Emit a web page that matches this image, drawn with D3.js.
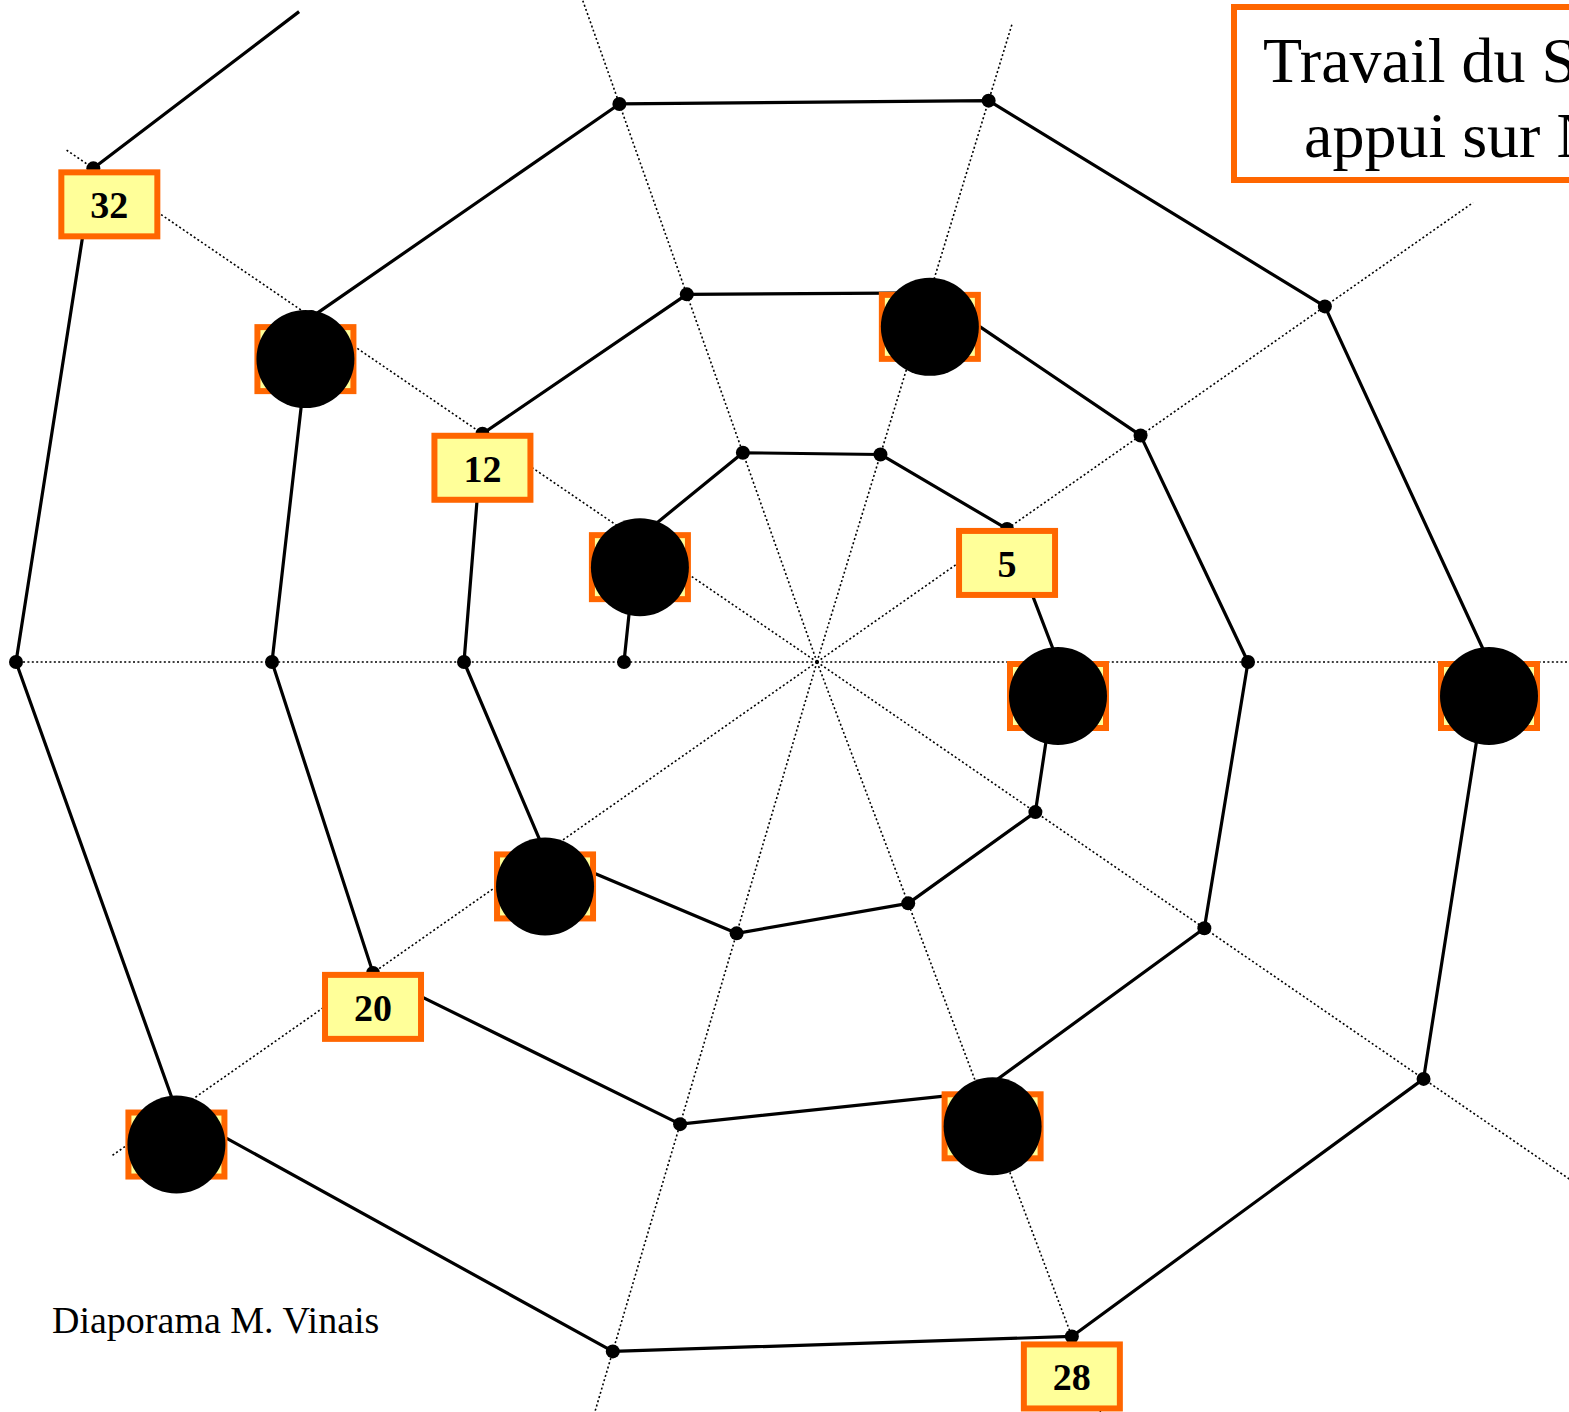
<!DOCTYPE html>
<html>
<head>
<meta charset="utf-8">
<script src="https://cdn.jsdelivr.net/npm/d3@7"></script>
<style>
  html, body { margin: 0; padding: 0; background: #fff; }
  svg { display: block; }
</style>
</head>
<body>
<script>
    'use strict';

    // spokes of the web, screen angle in degrees (0 = right, clockwise)
    var spokeAngles = [0, 34.5, 69.3, 106.5, 145, 180, 214.3, 250.5, 287, 325];
    // how far each dotted spoke reaches (same units as nodeRadius)
    var spokeReach = [82, 95, 85, 80, 86.2, 80.7, 90.9, 72, 66.8, 80.1];

    // spiral nodes 1..33, radius of each node (node 1 sits on the 180 deg spoke)
    var nodeRadius = [19.3, 21.8, 22.2, 21.7, 23.2, 24.1, 26.5, 25.8, 28.3, 33.2,
                      35.3, 40.5, 39.0, 38.6, 39.5, 43.1, 47.0, 46.0, 48.2, 54.2,
                      54.5, 61.2, 59.2, 58.7, 62.0, 67.2, 73.6, 72.1, 71.9, 78.2,
                      80.1, 87.6, 87.3];
    var firstSpoke = 5;
    var lastSegmentDrawn = 0.476;   // the spiral stops part way to node 33

    var labelledNodes = [5, 12, 20, 28, 32];
    var hiddenNodes = [2, 6, 10, 14, 18, 22, 26, 30];

    var titleLines = ['Travail du Sens du nombre', 'appui sur Numération'];
    var footerText = 'Diaporama M. Vinais';

    var W = 1569, H = 1412;
    var cx = 817, cy = 662;
    var ORANGE = '#ff6600', YELLOW = '#ffff99';
    var SERIF = '"Liberation Serif", "Times New Roman", serif';
    var LABEL_DY = 34;
    // hand placed boxes that sit a little off their node
    var LABEL_NUDGE = { 2: [3, -6], 18: [13, 0], 22: [-6, 8], 28: [0, 6], 32: [16, 2] };

    var r = d3.scaleLinear().domain([0, 100]).range([0, 1000]);
    var angle = d3.scaleLinear().domain([0, 360]).range([Math.PI / 2, Math.PI * 2.5]);

    function pos(spoke, rad) {
        return d3.pointRadial(angle(spokeAngles[spoke]), r(rad));
    }

    var nodes = nodeRadius.map(function (d, i) {
        var p = pos((firstSpoke + i) % spokeAngles.length, d);
        return { n: i + 1, x: p[0], y: p[1] };
    });

    var svg = d3.select('body').append('svg')
        .attr('width', W)
        .attr('height', H);

    var g = svg.append('g')
        .attr('transform', 'translate(' + cx + ',' + cy + ')');

    // dotted spokes
    g.append('g').attr('class', 'spokes')
        .selectAll('line')
        .data(spokeAngles)
        .enter().append('line')
        .attr('x1', 0).attr('y1', 0)
        .attr('x2', function (d, i) { return pos(i, spokeReach[i])[0]; })
        .attr('y2', function (d, i) { return pos(i, spokeReach[i])[1]; })
        .style('stroke', '#000')
        .style('stroke-width', 1.6)
        .style('stroke-dasharray', '2,2.4');

    // spiral, the last segment only partly drawn
    var last = nodes[nodes.length - 1], prev = nodes[nodes.length - 2];
    var pts = nodes.slice(0, -1).map(function (d) { return [d.x, d.y]; });
    pts.push([prev.x + (last.x - prev.x) * lastSegmentDrawn,
              prev.y + (last.y - prev.y) * lastSegmentDrawn]);

    g.append('path')
        .attr('class', 'spiral')
        .attr('d', d3.line()(pts))
        .style('fill', 'none')
        .style('stroke', '#000')
        .style('stroke-width', 3.2)
        .style('stroke-linejoin', 'round');

    // small node dots
    g.append('g').attr('class', 'dots')
        .selectAll('circle')
        .data(nodes.slice(0, -1))
        .enter().append('circle')
        .attr('cx', function (d) { return d.x; })
        .attr('cy', function (d) { return d.y; })
        .attr('r', 7)
        .style('fill', '#000');

    function boxCenter(d) {
        var nudge = LABEL_NUDGE[d.n] || [0, 0];
        return [d.x + nudge[0], d.y + LABEL_DY + nudge[1]];
    }

    var boxed = nodes.filter(function (d) {
        return labelledNodes.indexOf(d.n) > -1 || hiddenNodes.indexOf(d.n) > -1;
    });

    var label = g.append('g').attr('class', 'labels')
        .selectAll('g')
        .data(boxed)
        .enter().append('g')
        .attr('transform', function (d) {
            return 'translate(' + boxCenter(d).toString() + ')';
        });

    label.append('rect')
        .attr('x', -48).attr('y', -32)
        .attr('width', 96).attr('height', 64)
        .style('fill', YELLOW)
        .style('stroke', ORANGE)
        .style('stroke-width', 6);

    label.filter(function (d) { return labelledNodes.indexOf(d.n) > -1; })
        .append('text')
        .attr('text-anchor', 'middle')
        .attr('y', 14)
        .text(function (d) { return d.n; })
        .style('font-family', SERIF)
        .style('font-weight', 'bold')
        .style('font-size', '38px');

    label.filter(function (d) { return hiddenNodes.indexOf(d.n) > -1; })
        .append('circle')
        .attr('r', 49)
        .style('fill', '#000');

    // title box, cut by the right edge as in the slide
    var title = svg.append('g').attr('class', 'title');
    title.append('rect')
        .attr('x', 1234).attr('y', 7)
        .attr('width', 800).attr('height', 173)
        .style('fill', '#fff')
        .style('stroke', ORANGE)
        .style('stroke-width', 6);
    title.selectAll('text')
        .data(titleLines)
        .enter().append('text')
        .attr('x', function (d, i) { return i === 0 ? 1263 : 1304; })
        .attr('y', function (d, i) { return 82 + i * 75; })
        .text(function (d) { return d; })
        .style('font-family', SERIF)
        .style('font-size', '64px');

    svg.append('text')
        .attr('x', 52)
        .attr('y', 1333)
        .text(footerText)
        .style('font-family', SERIF)
        .style('font-size', '38px');
</script>
</body>
</html>
